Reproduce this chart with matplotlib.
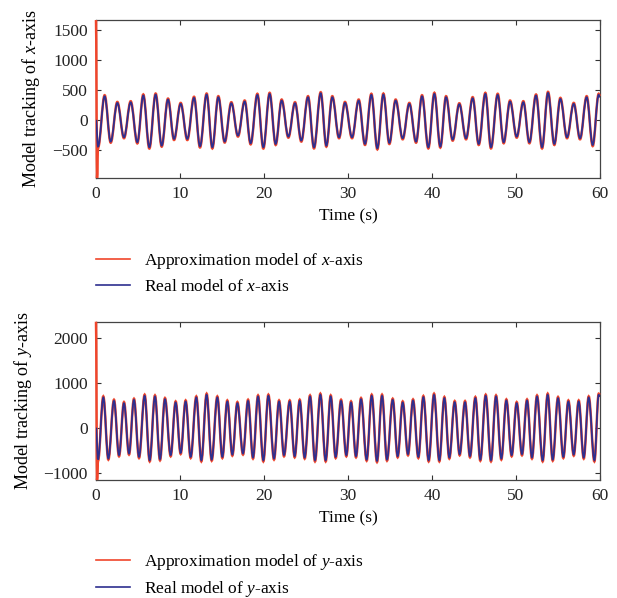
import matplotlib
matplotlib.use('Agg')
import matplotlib.pyplot as plt
from matplotlib.path import Path
from matplotlib.patches import PathPatch
from matplotlib.lines import Line2D
import numpy as np

plt.rcParams['font.family'] = ['Liberation Serif', 'DejaVu Serif']
plt.rcParams['mathtext.fontset'] = 'custom'
plt.rcParams['mathtext.rm'] = 'Liberation Serif'
plt.rcParams['mathtext.it'] = 'Liberation Serif:italic'
plt.rcParams['font.size'] = 12.5

# x-axis tracking: turning points of the response (time in s)
t_x = [0.24, 1.03, 1.75, 2.54, 3.33, 4.13, 4.92, 5.63, 6.35, 7.10,
       7.82, 8.57, 9.29, 10.08, 10.87, 11.67, 12.38, 13.17, 13.85, 14.56,
       15.32, 16.11, 16.90, 17.70, 18.41, 19.21, 19.92, 20.67, 21.39, 22.10,
       22.90, 23.69, 24.44, 25.24, 25.95, 26.75, 27.42, 28.13, 28.93, 29.64,
       30.48, 31.27, 32.02, 32.78, 33.49, 34.21, 34.92, 35.67, 36.51, 37.30,
       38.10, 38.81, 39.56, 40.28, 40.99, 41.67, 42.46, 43.25, 44.05, 44.84,
       45.56, 46.35, 47.02, 47.82, 48.53, 49.29, 50.08, 50.87, 51.59, 52.38,
       53.10, 53.81, 54.56, 55.28, 56.07, 56.87, 57.62, 58.41, 59.13, 59.84,
       60.0]
real_x = [-444, 394, -361, 283, -289, 294, -372, 406, -456, 422,
          -428, 339, -317, 267, -317, 367, -439, 422, -456, 378,
          -361, 278, -261, 306, -389, 417, -456, 433, -400, 322,
          -278, 278, -344, 378, -456, 444, -428, 378, -289, 283,
          -289, 322, -400, 417, -472, 422, -383, 322, -306, 267,
          -361, 394, -456, 433, -444, 378, -328, 261, -306, 361,
          -400, 433, -456, 417, -372, 306, -278, 294, -372, 406,
          -456, 450, -400, 350, -289, 267, -306, 378, -417, 417,
          380]
approx_x = [-465, 412, -380, 300, -306, 312, -392, 425, -478, 440,
            -446, 356, -335, 284, -336, 386, -460, 440, -476, 396,
            -378, 295, -278, 324, -408, 436, -478, 452, -418, 340,
            -296, 295, -362, 396, -476, 462, -446, 396, -306, 300,
            -306, 340, -418, 436, -492, 440, -402, 340, -324, 284,
            -380, 412, -476, 452, -462, 396, -346, 278, -324, 380,
            -418, 452, -476, 436, -390, 324, -296, 312, -390, 424,
            -476, 468, -418, 368, -306, 284, -324, 396, -436, 436,
            395]
real_x_t0 = [0.0]
real_x_v0 = [0]
approx_x_t0 = [0.0, 0.12]
approx_x_v0 = [1667, -970]

# y-axis tracking
t_y = [0.24, 0.87, 1.47, 2.14, 2.74, 3.33, 3.93, 4.52, 5.12, 5.79,
       6.39, 7.02, 7.62, 8.21, 8.89, 9.48, 10.08, 10.67, 11.27, 11.94,
       12.54, 13.17, 13.77, 14.44, 15.04, 15.63, 16.23, 16.83, 17.50, 18.10,
       18.69, 19.29, 19.92, 20.52, 21.19, 21.79, 22.38, 23.06, 23.65, 24.25,
       24.84, 25.48, 26.07, 26.71, 27.34, 27.94, 28.53, 29.17, 29.80,
       30.36, 30.95, 31.55, 32.22, 32.82, 33.45, 34.05, 34.64, 35.32, 35.91,
       36.51, 37.14, 37.74, 38.37, 38.97, 39.60, 40.24, 40.87, 41.47, 42.06,
       42.70, 43.29, 43.93, 44.52, 45.16, 45.75, 46.39, 47.02, 47.62, 48.25,
       48.85, 49.48, 50.08, 50.71, 51.31, 51.90, 52.50, 53.17, 53.77, 54.37,
       55.00, 55.63, 56.23, 56.87, 57.46, 58.06, 58.65, 59.33, 59.84, 60.0]
real_y = [-704, 667, -681, 593, -607, 541, -570, 615, -644, 704,
          -719, 689, -696, 630, -607, 556, -556, 578, -644, 667,
          -719, 726, -704, 667, -644, 578, -593, 541, -570, 593,
          -659, 689, -719, 704, -681, 578, -607, 578, -630, 593,
          -659, 689, -719, 726, -719, 689, -644, 593, -607,
          556, -630, 630, -704, 704, -733, 704, -704, 615, -630,
          556, -585, 600, -644, 674, -719, 726, -719, 652, -659,
          563, -585, 563, -630, 652, -704, 704, -719, 689, -681,
          600, -607, 541, -585, 600, -659, 689, -719, 726, -704,
          652, -644, 578, -593, 578, -659, 667, -719, 726, 700]
approx_y = [-735, 695, -708, 620, -634, 568, -597, 642, -672, 732,
            -748, 716, -724, 657, -634, 583, -583, 605, -672, 694,
            -748, 754, -732, 694, -672, 605, -620, 568, -597, 620,
            -686, 716, -748, 732, -708, 605, -634, 605, -657, 620,
            -686, 716, -748, 754, -748, 716, -672, 620, -634,
            583, -657, 657, -732, 732, -762, 732, -732, 642, -657,
            583, -612, 627, -672, 702, -748, 754, -748, 680, -686,
            590, -612, 590, -657, 680, -732, 732, -748, 716, -708,
            627, -634, 568, -612, 627, -686, 716, -748, 754, -732,
            680, -672, 605, -620, 605, -686, 694, -748, 754, 725]
real_y_t0 = [0.0]
real_y_v0 = [0]
approx_y_t0 = [0.0, 0.12]
approx_y_v0 = [2350, -1160]

red = '#f0452b'
blue = '#2e2f8f'


def smooth_path(t, v, k=0.3642):
    # cubic segments between turning points, flat at each turning point
    verts = [(t[0], v[0])]
    codes = [Path.MOVETO]
    for i in range(1, len(t)):
        dt = t[i] - t[i - 1]
        verts += [(t[i - 1] + k * dt, v[i - 1]), (t[i] - k * dt, v[i]), (t[i], v[i])]
        codes += [Path.CURVE4] * 3
    return Path(verts, codes)


fig = plt.figure(figsize=(6.17, 5.98), dpi=100)
ax1 = fig.add_axes([0.1556, 0.7023, 0.8169, 0.2642])
ax2 = fig.add_axes([0.1556, 0.1973, 0.8169, 0.2647])

panels = [
    (ax1, t_x, real_x, approx_x, real_x_t0, real_x_v0, approx_x_t0, approx_x_v0,
     'x', (-970, 1667), [-500, 0, 500, 1000, 1500], 0.580),
    (ax2, t_y, real_y, approx_y, real_y_t0, real_y_v0, approx_y_t0, approx_y_v0,
     'y', (-1160, 2350), [-1000, 0, 1000, 2000], 0.0775),
]

for ax, t, real, approx, rt0, rv0, at0, av0, name, ylim, yticks, leg_y in panels:
    ax.add_patch(PathPatch(smooth_path(at0 + t, av0 + approx), fill=False,
                           edgecolor=red, lw=1.8, zorder=3, clip_on=False))
    ax.add_patch(PathPatch(smooth_path(rt0 + t, rv0 + real), fill=False,
                           edgecolor=blue, lw=1.3, zorder=3.1))
    ax.set_xlim(0, 60)
    ax.set_ylim(*ylim)
    ax.set_xticks(np.arange(0, 61, 10))
    ax.set_yticks(yticks)
    ax.tick_params(direction='in', top=True, right=True, length=3.5, width=0.8,
                   pad=6, colors='#333333', labelcolor='#222222')
    for sp in ax.spines.values():
        sp.set_color('#444444')
        sp.set_linewidth(0.9)
    ax.set_xlabel('Time (s)', labelpad=4)
    ax.set_ylabel(f'Model tracking of ${name}$-axis', labelpad=7, fontsize=13)
    handles = [Line2D([], [], color=red, lw=1.2), Line2D([], [], color=blue, lw=1.2)]
    labels = [f'Approximation model of ${name}$-axis', f'Real model of ${name}$-axis']
    ax.legend(handles, labels, loc='upper left', bbox_to_anchor=(0.1556, leg_y),
              bbox_transform=fig.transFigure, frameon=False, borderpad=0,
              borderaxespad=0, handlelength=1.95, handletextpad=0.8,
              labelspacing=0.45)

plt.savefig('out.png', dpi=100)
